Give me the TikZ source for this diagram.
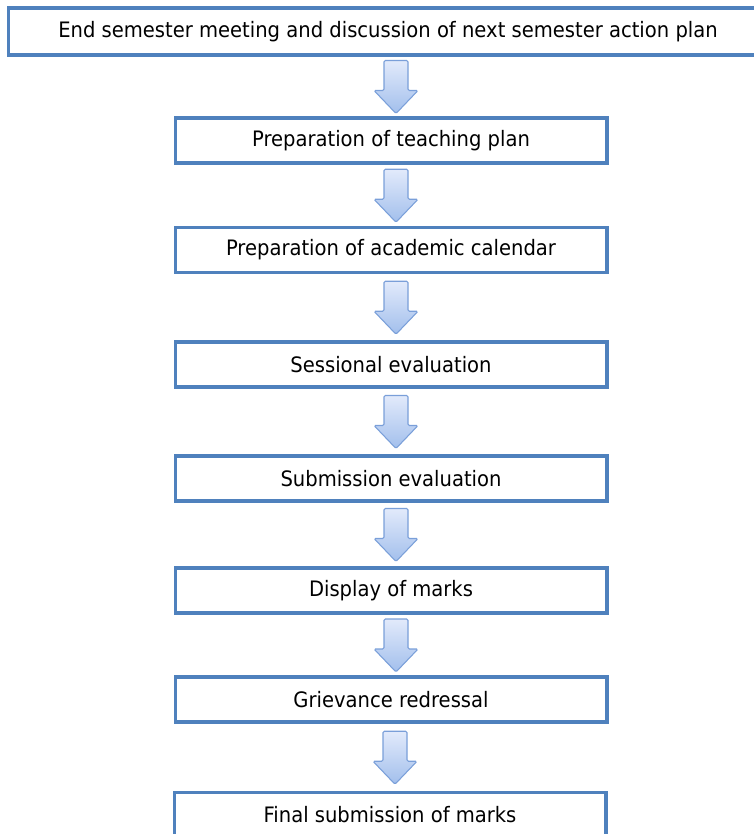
\documentclass[tikz,border=0pt]{standalone}
\usepackage{fontspec}
\setmainfont{DejaVu Sans}[FakeStretch=0.92]
\usepackage{xcolor}
\usepackage{tikz}
\usetikzlibrary{calc}
\definecolor{BoxLine}{HTML}{4F81BD}
\definecolor{ArrTop}{HTML}{E2EAFB}
\definecolor{ArrBot}{HTML}{A2BFEC}
\definecolor{ArrLine}{HTML}{7A9FD9}

\newcommand{\flowarrow}[2]{%
\coordinate (m) at ($(#2.north)!0.5!(#2.north |- #1.south)+(5,0)$);%
\draw[blockarrow] ($(m)+(-12,-26)$) -- ($(m)+(12,-26)$) -- ($(m)+(12,4)$) -- ($(m)+(22,4)$) -- ($(m)+(0,27)$) -- ($(m)+(-22,4)$) -- ($(m)+(-12,4)$) -- cycle;%
}

\begin{document}
\begin{tikzpicture}[x=0.02cm, y=-0.02cm,
  stagebox/.style={draw=BoxLine, line width=1.75pt, fill=white, minimum width=8.64cm, minimum height=0.9cm, text centered, font=\fontsize{12.1}{14}\selectfont},
  blockarrow/.style={draw=ArrLine, line width=0.6pt, top color=ArrTop, bottom color=ArrBot, rounded corners=0.8pt}]%
\useasboundingbox (0,0) rectangle (753,834);%
% the top box runs on past the right edge
\node[stagebox, minimum width=16cm, minimum height=0.94cm] (endsem) at (408,31.5) {\hspace*{-0.8cm}End semester meeting and discussion of next semester action plan};%
\node[stagebox] (teachplan) at (391,140.5) {Preparation of teaching plan};%
\node[stagebox] (acadcal) at (391,250) {Preparation of academic calendar};%
\node[stagebox] (sessional) at (391,364.5) {Sessional evaluation};%
\node[stagebox] (submission) at (391,478.5) {Submission evaluation};%
\node[stagebox] (display) at (391,590.5) {Display of marks};%
\node[stagebox] (grievance) at (391,699.5) {Grievance redressal};%
\node[stagebox] (final) at (390,815) {Final submission of marks};%
\flowarrow{endsem}{teachplan}%
\flowarrow{teachplan}{acadcal}%
\flowarrow{acadcal}{sessional}%
\flowarrow{sessional}{submission}%
\flowarrow{submission}{display}%
\flowarrow{display}{grievance}%
\flowarrow{grievance}{final}%
\end{tikzpicture}
\end{document}
